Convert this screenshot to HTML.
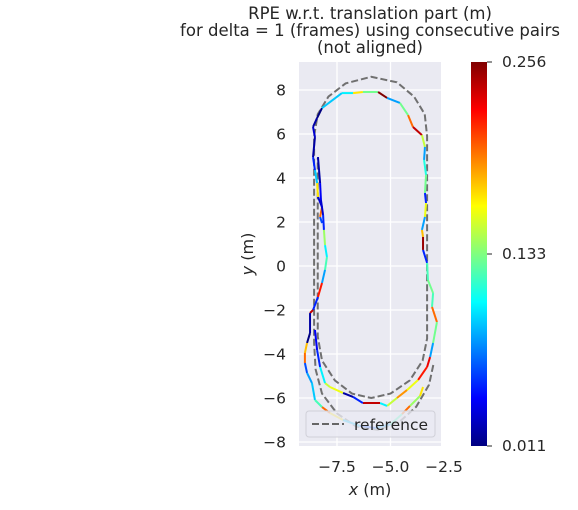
<!DOCTYPE html>
<html><head><meta charset="utf-8"><style>
body{margin:0;background:#fff;}
svg text{font-family:"DejaVu Sans","Liberation Sans",sans-serif;fill:#262626;}
</style></head><body>
<svg id="c" width="578" height="505" viewBox="0 0 578 505" xmlns="http://www.w3.org/2000/svg">
<defs>
<linearGradient id="jet" x1="0" y1="1" x2="0" y2="0">
<stop offset="0" stop-color="#000080"/><stop offset="0.125" stop-color="#0000ff"/><stop offset="0.375" stop-color="#00ffff"/><stop offset="0.625" stop-color="#ffff00"/><stop offset="0.875" stop-color="#ff0000"/><stop offset="1" stop-color="#800000"/>
</linearGradient>
<clipPath id="pc"><rect x="299" y="62" width="142" height="384"/></clipPath>
</defs>
<g>
<text x="370" y="19" font-size="16.5" text-anchor="middle">RPE w.r.t. translation part (m)</text>
<text x="370" y="36" font-size="16.5" text-anchor="middle">for delta = 1 (frames) using consecutive pairs</text>
<text x="370" y="53" font-size="16.5" text-anchor="middle">(not aligned)</text>
</g>
<rect x="299" y="62" width="142" height="384" fill="#eaeaf2"/>
<g id="grid"></g>
<g id="marks" clip-path="url(#pc)"></g>
<g id="ticks"></g>
<text x="370" y="495" font-size="16" text-anchor="middle"><tspan font-style="italic">x</tspan> (m)</text>
<text transform="translate(253,254) rotate(-90)" font-size="16" text-anchor="middle"><tspan font-style="italic">y</tspan> (m)</text>
<g>
<rect x="306" y="411" width="129" height="26" rx="3" fill="#eaeaf2" fill-opacity="0.8" stroke="#d0d0d8"/>
<line x1="312" y1="424" x2="344" y2="424" stroke="#666" stroke-width="2" stroke-dasharray="7,3"/>
<text x="354" y="430" font-size="15.5">reference</text>
</g>
<g>
<rect x="471" y="62" width="16" height="384" fill="url(#jet)"/>
<line x1="487" y1="62" x2="492" y2="62" stroke="#262626"/>
<line x1="487" y1="254" x2="492" y2="254" stroke="#262626"/>
<line x1="487" y1="446" x2="492" y2="446" stroke="#262626"/>
<text x="502" y="67" font-size="15.5">0.256</text>
<text x="502" y="259" font-size="15.5">0.133</text>
<text x="502" y="451" font-size="15.5">0.011</text>
</g>
</svg>
<script>
const xTicks=[-7.5,-5.0,-2.5];
const xTickLabels=["−7.5","−5.0","−2.5"];
const yTicks=[-8,-6,-4,-2,0,2,4,6,8];
const vmin=0.011, vmax=0.256;
const refX=[-3.0,-3.2,-3.8,-4.6,-5.6,-6.6,-7.5,-8.2,-8.5,-8.57,-8.57,-8.4,-7.9,-7.1,-5.9,-4.7,-3.9,-3.4,-3.29,-3.29,-3.5,-4.1,-5.0,-5.9,-6.8,-7.6,-8.2,-8.4,-8.4];
const refY=[-4.5,-5.4,-6.4,-7.1,-7.45,-7.3,-6.7,-5.8,-4.7,-3.5,5.9,6.9,7.7,8.3,8.6,8.35,7.7,6.9,5.9,-3.3,-4.3,-5.2,-5.8,-6.0,-5.8,-5.2,-4.3,-3.2,4.9];
const s1X=[-8.20,-8.29,-8.20,-8.39,-8.43,-8.53,-8.62,-8.53,-8.62,-8.43,-8.20,-7.27,-6.75,-6.29,-5.58,-5.16,-4.56,-4.18,-3.95,-3.53,-3.39,-3.43,-3.34,-3.39,-3.34,-3.39,-3.53,-3.48,-3.48,-3.29,-3.25,-3.01,-3.06,-2.83,-3.01,-3.15,-3.29,-3.71,-4.23,-4.70,-5.16,-5.49,-6.29,-6.75,-7.22,-7.83,-8.06,-8.29,-8.43,-8.53];
const s1Y=[1.95,2.23,2.68,3.14,3.77,4.36,4.95,5.86,6.32,6.73,7.18,7.86,7.86,7.91,7.91,7.64,7.41,6.86,6.32,5.95,5.41,4.82,4.14,3.32,2.86,2.23,1.64,1.32,0.73,0.14,-0.64,-1.23,-1.86,-2.55,-3.5,-4.14,-4.59,-5.18,-5.64,-6.0,-6.36,-6.23,-6.23,-5.95,-5.77,-5.5,-5.32,-4.59,-3.82,-2.91];
const s1V=[0.06,0.20,0.03,0.17,0.09,0.05,0.02,0.03,0.02,0.01,0.09,0.10,0.17,0.13,0.256,0.08,0.13,0.20,0.24,0.15,0.08,0.11,0.13,0.05,0.16,0.08,0.18,0.25,0.05,0.12,0.13,0.12,0.20,0.13,0.08,0.23,0.22,0.16,0.19,0.15,0.10,0.24,0.05,0.02,0.16,0.15,0.10,0.05,0.04,0.03];
const s2X=[-8.39,-8.34,-8.29,-8.25,-8.15,-8.11,-8.06,-7.97,-8.06,-8.20,-8.39,-8.62,-8.76,-8.76,-8.90,-9.00,-9.00,-8.90,-8.67,-8.53,-8.20,-7.83,-7.22,-6.43,-5.72,-5.0,-4.46,-4.09,-3.62,-3.48];
const s2Y=[4.95,4.36,3.77,3.0,2.32,1.64,0.95,0.41,-0.18,-0.77,-1.41,-2.0,-2.14,-3.05,-3.5,-3.95,-4.41,-4.86,-5.32,-6.09,-6.41,-6.68,-7.0,-7.27,-7.36,-7.2,-6.73,-6.36,-5.91,-5.5];
const s2V=[0.02,0.02,0.04,0.03,0.05,0.14,0.10,0.12,0.08,0.22,0.05,0.24,0.02,0.01,0.18,0.20,0.06,0.08,0.09,0.12,0.20,0.17,0.09,0.06,0.08,0.12,0.20,0.14,0.17,0.16];
const NS="http://www.w3.org/2000/svg";
const X=v=>337+(v+7.5)*21.4, Y=v=>266-v*22;
function jet(t){t=Math.max(0,Math.min(1,t));const r=Math.max(0,Math.min(1,1.5-Math.abs(4*t-3))),g=Math.max(0,Math.min(1,1.5-Math.abs(4*t-2))),b=Math.max(0,Math.min(1,1.5-Math.abs(4*t-1)));return `rgb(${Math.round(r*255)},${Math.round(g*255)},${Math.round(b*255)})`;}
function mk(tag,attrs,parent){const e=document.createElementNS(NS,tag);for(const k in attrs)e.setAttribute(k,attrs[k]);parent.appendChild(e);return e;}
const grid=document.getElementById('grid'),ticks=document.getElementById('ticks'),marks=document.getElementById('marks');
xTicks.forEach((t,i)=>{const l=mk('line',{x1:X(t),x2:X(t),y1:62,y2:446,stroke:'#fff','stroke-width':1.3},grid);


const tx=mk('text',{x:X(t),y:472,'font-size':15.5,'text-anchor':'middle'},ticks);tx.textContent=xTickLabels[i];

});
yTicks.forEach(t=>{const l=mk('line',{x1:299,x2:441,y1:Y(t),y2:Y(t),stroke:'#fff','stroke-width':1.3},grid);


const tx=mk('text',{x:286,y:Y(t)+5.5,'font-size':15.5,'text-anchor':'end'},ticks);tx.textContent=(t<0?'−':'')+Math.abs(t);

});
const ref=mk('polyline',{points:refX.map((v,i)=>X(v)+','+Y(refY[i])).join(' '),fill:'none',stroke:'#707070','stroke-width':2,'stroke-dasharray':'7,3'},marks);


function strand(xs,ys,vs,name){for(let i=0;i<xs.length-1;i++){const l=mk('line',{x1:X(xs[i]),y1:Y(ys[i]),x2:X(xs[i+1]),y2:Y(ys[i+1]),stroke:jet((vs[i]-vmin)/(vmax-vmin)),'stroke-width':2},marks);

}}
strand(s1X,s1Y,s1V,'rpe-segment');
strand(s2X,s2Y,s2V,'rpe-segment');
</script>
</body></html>
